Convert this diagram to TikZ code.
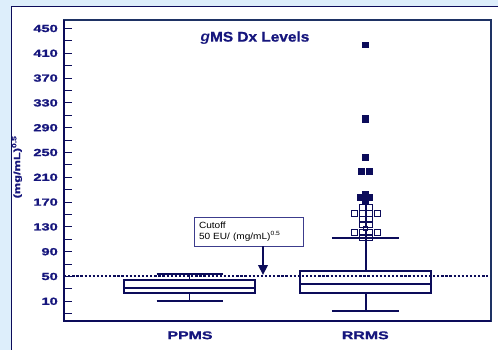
\documentclass[tikz,border=0pt]{standalone}
\usepackage{fontspec}
\setmainfont{Liberation Sans}
\newfontfamily\axisfont[FakeStretch=1.42,BoldFeatures={FakeBold=1.2}]{Liberation Sans}
\newfontfamily\titlefont[FakeStretch=1.1,BoldFeatures={FakeBold=0.8}]{Liberation Sans}
\newfontfamily\notefont[FakeStretch=1.12]{Liberation Sans}
\usetikzlibrary{positioning}
\usetikzlibrary{arrows.meta}

\begin{document}
\begin{tikzpicture}[x=1pt,y=-1pt,
	tick label/.style={font={\axisfont\bfseries\fontsize{10.3}{12}\selectfont},text=labelblue,anchor=east,inner sep=0pt},
	group label/.style={font={\axisfont\bfseries\fontsize{11.2}{13}\selectfont},text=labelblue,inner sep=0pt},
	whisker/.style={draw=plotblue,line width=1.8pt},
	boxbody/.style={draw=plotblue,line width=1.8pt,fill=white,inner sep=0pt},
	open pt/.style={draw=plotblue,line width=0.9pt},
	full pt/.style={fill=plotblue},
	cutbox/.style={draw=boxline,line width=0.8pt,fill=white,align=left,text width=99pt,
		inner xsep=5pt,minimum height=29pt,font={\notefont\fontsize{9}{11}\selectfont}}]
	
	\definecolor{bgblue}{RGB}{221,238,251}
	\definecolor{labelblue}{RGB}{22,22,125}
	\definecolor{plotblue}{RGB}{12,12,90}
	\definecolor{frameblue}{RGB}{30,50,100}
	\definecolor{boxline}{RGB}{60,60,140}
	
	\useasboundingbox (0,0) rectangle (498,350);
	\fill[bgblue] (0,0) rectangle (498,350);
	\fill[white] (11,7) rectangle (498,350);
	\draw[plotblue,line width=1pt] (11,350) -- (11,7) -- (498,7);
	
	% plot frame and y axis
	\draw[frameblue,line width=2pt] (64,20) rectangle (491,321);
	\draw[plotblue,line width=1.3pt] (64,20) -- (64,321) -- (491,321);
	\foreach \v in {-10,10,...,450} {
		\pgfmathsetmacro\yy{307.5-0.62*\v}
		\draw[plotblue,line width=1pt] (64,\yy) -- (72,\yy);
	}
	\foreach \v in {10,50,...,450} {
		\pgfmathsetmacro\yy{307.5-0.62*\v}
		\node[tick label] (tick\v) at (58,\yy) {\v};
	}
	
	\node[font={\titlefont\bfseries\fontsize{14}{16}\selectfont},text=labelblue] (title) at (255,38) {\textit{g}MS Dx Levels};
	\node[font={\axisfont\bfseries\fontsize{9}{11}\selectfont},text=labelblue,rotate=90] (unit) at (17,167) {(mg/mL)\textsuperscript{0.5}};
	
	% boxes
	\node[boxbody,minimum width=131pt,minimum height=13.3pt] (ppms) at (189.5,286.65) {};
	\node[boxbody,minimum width=131.3pt,minimum height=22pt] (rrms) at (365.65,281.7) {};
	\draw[whisker] (124,288.3) -- (255,288.3);
	\draw[whisker] (300,284.3) -- (431.3,284.3);
	
	\coordinate (ppms hi) at (189.5,274);
	\coordinate (ppms lo) at (189.5,301.3);
	\coordinate (rrms hi) at (365.65,237.7);
	\coordinate (rrms lo) at (365.65,311);
	\draw[whisker] (ppms.north) -- (ppms hi);
	\draw[whisker] (ppms.south) -- (ppms lo);
	\draw[whisker] (rrms.north) -- (rrms hi);
	\draw[whisker] (rrms.south) -- (rrms lo);
	\draw[whisker] ([xshift=-33pt]ppms hi) -- ([xshift=33pt]ppms hi);
	\draw[whisker] ([xshift=-33pt]ppms lo) -- ([xshift=33pt]ppms lo);
	\draw[whisker] ([xshift=-33.7pt]rrms hi) -- ([xshift=33.7pt]rrms hi);
	\draw[whisker] ([xshift=-33.7pt]rrms lo) -- ([xshift=33.7pt]rrms lo);
	
	% outliers
	\foreach \px/\py in {362/207.7,369.7/207.7,354/213.3,362/213.3,369.7/213.3,377.5/213.3,
		362/219,369.7/219,362/224.3,369.7/224.3,354/232.5,362/232.5,369.7/232.5,377.5/232.5,
		362/237,369.7/237}
		\draw[open pt] (\px-3,\py-3) rectangle ++(6,6);
	\draw[open pt] (363.5,226.4) rectangle ++(4.4,4.4);
	\foreach \px/\py in {365.3/45,365.3/117.8,365.3/120.2,365.3/157.7,361.3/171.7,369.7/171.7,
		360.7/197.7,365.3/197.7,370/197.7,365.3/194.5,365.3/200.9}
		\fill[full pt] (\px-3.25,\py-3.25) rectangle ++(6.5,6.5);
	
	% cutoff line
	\coordinate (cut left) at (64,276);
	\coordinate (cut right) at (488,276);
	\draw[plotblue,line width=2.4pt,dash pattern=on 2.3pt off 1.8pt] (cut left) -- (cut right);
	
	\node[cutbox] (cutoff) at (248.5,231.4) {Cutoff\\50 EU/ (mg/mL)\textsuperscript{0.5}};
	\coordinate (tip) at (263,275);
	\draw[plotblue,line width=2.2pt,-{Triangle[length=10pt,width=9.5pt]}] ([xshift=14.5pt]cutoff.south) -- (tip);
	
	\node[group label] (ppms name) at (190,335.3) {PPMS};
	\node[group label] (rrms name) at (365.3,335.3) {RRMS};
\end{tikzpicture}
\end{document}
